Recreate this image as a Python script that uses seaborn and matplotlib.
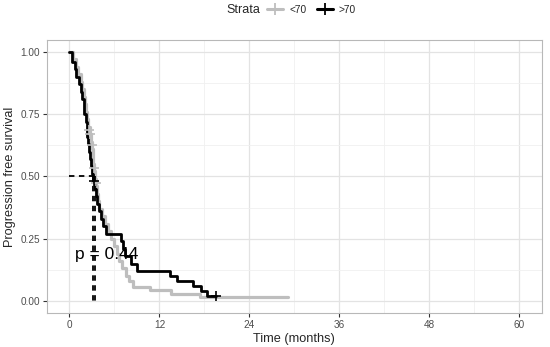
import matplotlib
matplotlib.use("Agg")
import matplotlib.pyplot as plt
from matplotlib.lines import Line2D
import numpy as np
import pandas as pd
import seaborn as sns

# ---- data ----
strata_labels = ["<70", ">70"]
colors = {"<70": "#bebebe", ">70": "#000000"}

grey_time = [0, 0.5, 0.9, 1.2, 1.5, 1.7, 1.9, 2.1, 2.2, 2.35, 2.5, 2.7, 2.85, 3.0, 3.1,
             3.2, 3.3, 3.45, 3.55, 3.7, 3.85, 4.0, 4.3, 4.7, 5.1, 5.5, 5.9, 6.3, 6.6,
             7.0, 7.5, 8.0, 8.5, 10.7, 13.6, 17.4, 29.1]
grey_surv = [1.0, 0.97, 0.94, 0.91, 0.88, 0.85, 0.82, 0.79, 0.76, 0.73, 0.70, 0.67, 0.64,
             0.61, 0.58, 0.55, 0.52, 0.49, 0.46, 0.43, 0.40, 0.37, 0.34, 0.31, 0.28, 0.25,
             0.22, 0.19, 0.16, 0.13, 0.10, 0.08, 0.057, 0.043, 0.029, 0.014, 0.014]
grey_cens_time = [2.65, 2.75, 2.95, 3.3, 3.5]
grey_cens_surv = [0.685, 0.67, 0.625, 0.535, 0.475]

black_time = [0, 0.4, 0.7, 0.9, 1.3, 1.6, 1.7, 1.9, 2.0, 2.2, 2.3, 2.4, 2.5, 2.65, 2.8,
              2.9, 3.05, 3.2, 3.4, 3.55, 3.7, 3.9, 4.2, 4.5, 4.9, 6.9, 7.2, 7.4, 8.2,
              9.0, 13.4, 14.3, 16.5, 17.6, 18.3, 19.6]
black_surv = [1.0, 0.96, 0.93, 0.90, 0.87, 0.84, 0.81, 0.78, 0.75, 0.72, 0.69, 0.66, 0.63,
              0.60, 0.57, 0.54, 0.51, 0.48, 0.45, 0.42, 0.39, 0.36, 0.33, 0.30, 0.27, 0.24,
              0.21, 0.18, 0.15, 0.12, 0.10, 0.08, 0.06, 0.04, 0.02, 0.02]
black_cens_time = [3.3, 19.6]
black_cens_surv = [0.48, 0.02]

median_black = 3.15
median_grey = 3.4
p_text = "p = 0.44"

x_ticks = [0, 12, 24, 36, 48, 60]
y_ticks = [0.0, 0.25, 0.5, 0.75, 1.0]

# ---- figure ----
sns.set_theme(style="white")
plt.rcParams["font.family"] = ["Liberation Sans", "DejaVu Sans"]

fig = plt.figure(figsize=(5.5, 3.47), dpi=100)
ax = fig.add_axes([47 / 550, 1 - 313.3 / 347, (541.7 - 47) / 550, (313.3 - 39.5) / 347])

ax.set_xlim(-3, 63)
ax.set_ylim(-0.05, 1.05)

# grid
ax.set_xticks(x_ticks)
ax.set_yticks(y_ticks)
ax.set_xticks([6, 18, 30, 42, 54], minor=True)
ax.set_yticks([0.125, 0.375, 0.625, 0.875], minor=True)
ax.grid(True, which="major", color="#e3e3e3", linewidth=0.9)
ax.grid(True, which="minor", color="#f0f0f0", linewidth=0.6)
ax.set_axisbelow(True)
for s in ax.spines.values():
    s.set_color("#b8b8b8")
    s.set_linewidth(0.8)

df_grey = pd.DataFrame({"time": grey_time, "surv": grey_surv, "strata": "<70"})
df_black = pd.DataFrame({"time": black_time, "surv": black_surv, "strata": ">70"})

sns.lineplot(data=df_grey, x="time", y="surv", color=colors["<70"], linewidth=2.3,
             drawstyle="steps-post", estimator=None, sort=False, ax=ax, legend=False)
sns.lineplot(data=df_black, x="time", y="surv", color=colors[">70"], linewidth=2.0,
             drawstyle="steps-post", estimator=None, sort=False, ax=ax, legend=False)

sns.scatterplot(x=grey_cens_time, y=grey_cens_surv, marker="+", s=60, color=colors["<70"],
                linewidth=1.2, ax=ax, legend=False, zorder=4)
sns.scatterplot(x=black_cens_time, y=black_cens_surv, marker="+", s=60, color=colors[">70"],
                linewidth=1.2, ax=ax, legend=False, zorder=5)

# median lines
ax.plot([0, max(median_black, median_grey)], [0.5, 0.5], color="black", linestyle=(0, (3, 2.5)),
        linewidth=1.3, zorder=6)
ax.plot([median_black, median_black], [0.5, 0], color="black", linestyle=(0, (3, 2.5)),
        linewidth=1.3, zorder=6)
ax.plot([median_grey, median_grey], [0.5, 0], color="black", linestyle=(0, (3, 2.5)),
        linewidth=1.3, zorder=6)

ax.text(0.7, 0.185, p_text, fontsize=12.5, ha="left", va="center", color="black", zorder=7)

# ticks/labels
ax.tick_params(axis="both", which="major", length=3, width=0.8, color="#333333",
               labelsize=7.2, labelcolor="#4d4d4d", pad=2, bottom=True, left=True)
ax.tick_params(axis="both", which="minor", length=0)
ax.set_xticklabels([str(v) for v in x_ticks])
ax.set_yticklabels([f"{v:.2f}" for v in y_ticks])
ax.set_xlabel("Time (months)", fontsize=9.2, labelpad=2)
ax.set_ylabel("Progression free survival", fontsize=9.2, labelpad=3)

# legend at top
fig.text(243 / 550, 1 - 10 / 347, "Strata", fontsize=9, ha="center", va="center")
handles = [Line2D([0], [0], color=colors[k], linewidth=2.2, marker="+", markersize=8,
                  markeredgewidth=1.3) for k in strata_labels]
fig.legend(handles, strata_labels, loc="center left", bbox_to_anchor=(267 / 550, 1 - 10 / 347),
           ncol=2, frameon=False, fontsize=7.3, handlelength=1.6, handletextpad=0.6,
           columnspacing=1.0, borderaxespad=0, borderpad=0)

fig.savefig("out.png", dpi=100)
